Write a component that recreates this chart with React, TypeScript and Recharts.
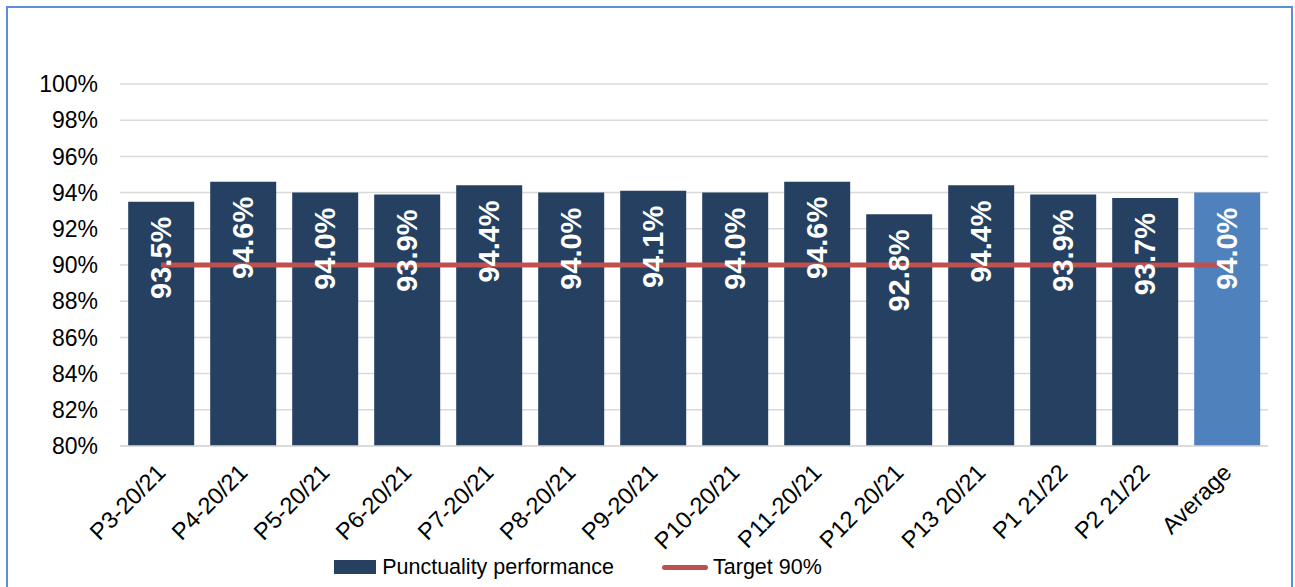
import React from "react"
import {
  ComposedChart,
  Bar,
  Line,
  XAxis,
  YAxis,
  CartesianGrid,
  Legend,
  LabelList,
  Cell,
} from "recharts"

const periods = [
  "P3-20/21",
  "P4-20/21",
  "P5-20/21",
  "P6-20/21",
  "P7-20/21",
  "P8-20/21",
  "P9-20/21",
  "P10-20/21",
  "P11-20/21",
  "P12 20/21",
  "P13 20/21",
  "P1 21/22",
  "P2 21/22",
  "Average",
]

const punctuality = [93.5, 94.6, 94.0, 93.9, 94.4, 94.0, 94.1, 94.0, 94.6, 92.8, 94.4, 93.9, 93.7, 94.0]
const target = [90, 90, 90, 90, 90, 90, 90, 90, 90, 90, 90, 90, 90, 90]
const yTicks = [80, 82, 84, 86, 88, 90, 92, 94, 96, 98, 100]

const data = periods.map((p, i) => ({
  period: p,
  punctuality: punctuality[i],
  target: target[i],
}))

const NAVY = "#254061"
const LIGHT_BLUE = "#4f81bd"
const RED = "#c0504d"
const FONT = "'Liberation Sans', Arial, sans-serif"

function XTick(props: any) {
  const { x, y, payload } = props
  const ax = x + 6
  const ay = y + 20
  return (
    <text
      x={ax}
      y={ay}
      transform={`rotate(-45, ${ax}, ${ay})`}
      textAnchor="end"
      fontSize={23.5}
      fontFamily={FONT}
      fill="#000"
    >
      {payload.value}
    </text>
  )
}

function BarLabel(props: any) {
  const { x, y, width, value } = props
  const cx = x + width / 2
  const ty = y + 15
  return (
    <text
      x={cx}
      y={ty}
      transform={`rotate(-90, ${cx}, ${ty})`}
      textAnchor="end"
      dominantBaseline="central"
      fontSize={29}
      fontWeight="bold"
      fontFamily={FONT}
      fill="#fff"
    >
      {Number(value).toFixed(1)}%
    </text>
  )
}

function LegendContent() {
  return (
    <div
      style={{
        display: "flex",
        alignItems: "center",
        justifyContent: "center",
        fontFamily: FONT,
        fontSize: 21.5,
        color: "#000",
        height: 40,
        paddingRight: 112,
      }}
    >
      <span style={{ display: "inline-block", width: 42, height: 14, background: NAVY, marginRight: 6 }} />
      <span style={{ marginRight: 48 }}>Punctuality performance</span>
      <span style={{ display: "inline-block", width: 46, height: 5, borderRadius: 3, background: RED, marginRight: 5 }} />
      <span>Target 90%</span>
    </div>
  )
}

export default function App() {
  return (
    <div style={{ position: "absolute", left: 0, top: 0, width: 1295, height: 587, overflow: "hidden", background: "#fff" }}>
      <div
        style={{
          position: "absolute",
          left: 6,
          top: 6,
          width: 1287,
          height: 620,
          border: "2px solid #5b8fd6",
          boxSizing: "border-box",
        }}
      />
      <div style={{ position: "absolute", left: 0, top: 0 }}>
        <ComposedChart
          width={1295}
          height={587}
          data={data}
          margin={{ top: 84, right: 27, left: 0, bottom: 0 }}
          barCategoryGap="10%"
        >
          <CartesianGrid vertical={false} stroke="#d9d9d9" strokeWidth={1.5} />
          <XAxis
            dataKey="period"
            interval={0}
            height={101}
            tickLine={false}
            axisLine={{ stroke: "#d9d9d9", strokeWidth: 1.5 }}
            tick={<XTick />}
          />
          <YAxis
            domain={[80, 100]}
            ticks={yTicks}
            interval={0}
            width={120}
            tickLine={false}
            axisLine={false}
            tickMargin={16}
            tickFormatter={(v: number) => `${v}%`}
            tick={{ fontSize: 23, fontFamily: FONT, fill: "#000" }}
            allowDataOverflow
          />
          <Legend verticalAlign="bottom" height={40} content={<LegendContent />} />
          <Bar dataKey="punctuality" name="Punctuality performance" fill={NAVY} isAnimationActive={false}>
            {data.map((d, i) => (
              <Cell key={d.period} fill={i === data.length - 1 ? LIGHT_BLUE : NAVY} />
            ))}
            <LabelList dataKey="punctuality" content={<BarLabel />} />
          </Bar>
          <Line
            dataKey="target"
            name="Target 90%"
            stroke={RED}
            strokeWidth={5}
            dot={false}
            activeDot={false}
            isAnimationActive={false}
          />
        </ComposedChart>
      </div>
    </div>
  )
}
